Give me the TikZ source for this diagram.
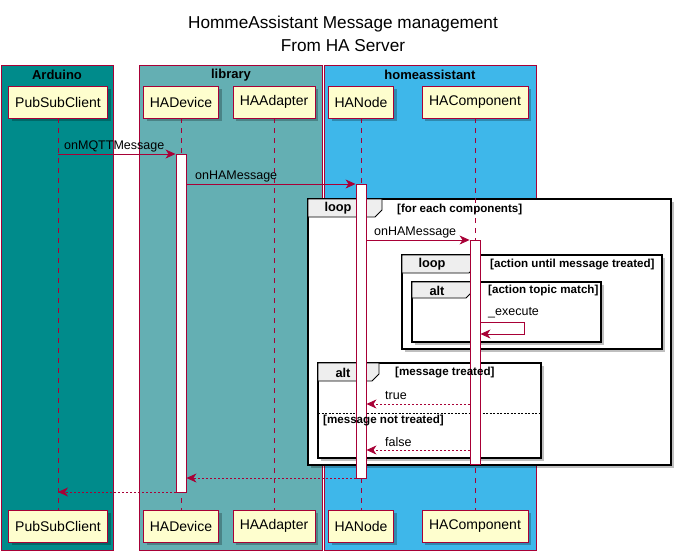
\documentclass[tikz,border=0pt]{standalone}
\usepackage{fontspec}
\setmainfont{Liberation Sans}
\usetikzlibrary{arrows.meta,shadows}
\definecolor{pline}{HTML}{A80036}
\definecolor{pfill}{HTML}{FEFECE}
\definecolor{ardc}{HTML}{008B8B}
\definecolor{libc}{HTML}{64AFB3}
\definecolor{hac}{HTML}{3EB7EA}
\definecolor{tabc}{HTML}{EEEEEE}
\begin{document}
\begin{tikzpicture}[x=1pt,y=-1pt,
  part/.style={draw=pline, fill=pfill, line width=0.9pt, minimum height=32pt, inner sep=0pt,
    font=\fontsize{14}{16}\selectfont,
    drop shadow={shadow xshift=3pt, shadow yshift=-3pt, fill=black, opacity=0.25}},
  life/.style={draw=pline, line width=0.8pt, dash pattern=on 5pt off 5pt},
  act/.style={draw=pline, fill=white, line width=0.9pt, minimum width=10pt, inner sep=0pt},
  msg/.style={draw=pline, line width=0.8pt, -{Stealth[length=10pt,width=9pt,inset=3pt]}},
  ret/.style={msg, dash pattern=on 2pt off 2pt},
  mlbl/.style={font=\fontsize{12.5}{14}\selectfont, inner sep=0pt, anchor=west},
  boxr/.style={draw=pline, line width=0.8pt},
  boxt/.style={font=\bfseries\fontsize{13}{15}\selectfont, inner sep=0pt},
  frame/.style={draw=black, line width=1.5pt, fill=white,
    drop shadow={shadow xshift=3pt, shadow yshift=-3pt, fill=black, opacity=0.25}},
  tab/.style={draw=black, line width=0.9pt, fill=tabc},
  ftag/.style={font=\bfseries\fontsize{12.8}{14}\selectfont, inner sep=0pt},
  cond/.style={font=\bfseries\fontsize{11.6}{13}\selectfont, inner sep=0pt, anchor=west}
]
\useasboundingbox (0,0) rectangle (684,555);

% title
\node[font=\fontsize{17.2}{20}\selectfont, inner sep=0pt] (title1) at (343,24) {HommeAssistant Message management};
\node[font=\fontsize{17.2}{20}\selectfont, inner sep=0pt] (title2) at (343,46) {From HA Server};

% boxes
\fill[ardc] (1,65) rectangle (113,550);
\draw[boxr] (1,65) rectangle (113,550);
\node[boxt] (tArd) at (57,75) {Arduino};
\fill[libc] (139,65) rectangle (322,550);
\draw[boxr] (139,65) rectangle (322,550);
\node[boxt] (tLib) at (231,75) {library};
\fill[hac] (324,65) rectangle (536,550);
\draw[boxr] (324,65) rectangle (536,550);
\node[boxt] (tHA) at (430,75) {homeassistant};

% frames
\draw[frame] (308,199) rectangle (671,465);
\draw[tab] (308,199) -- (382,199) -- (382,210) -- (375,217) -- (308,217) -- cycle;
\draw[frame] (402,255) rectangle (662,349);
\draw[tab] (402,255) -- (476,255) -- (476,266) -- (469,273) -- (402,273) -- cycle;
\draw[frame] (412,282) rectangle (601,342);
\draw[tab] (412,282) -- (473,282) -- (473,291) -- (466,298) -- (412,298) -- cycle;
\draw[frame] (318,363) rectangle (541,458);
\draw[tab] (318,363) -- (379,363) -- (379,374) -- (372,381) -- (318,381) -- cycle;
\draw[black, line width=0.8pt, dash pattern=on 2pt off 1.5pt] (318,413) -- (541,413);

% participants
\node[part, minimum width=99pt] (psT) at (58,102) {PubSubClient};
\node[part, minimum width=99pt] (psB) at (58,526) {PubSubClient};
\node[part, minimum width=75pt] (devT) at (181,102) {HADevice};
\node[part, minimum width=75pt] (devB) at (181,526) {HADevice};
\node[part, minimum width=82pt] (adT) at (274,102) {HAAdapter};
\node[part, minimum width=82pt] (adB) at (274,526) {HAAdapter};
\node[part, minimum width=65pt] (ndT) at (361,102) {HANode};
\node[part, minimum width=65pt] (ndB) at (361,526) {HANode};
\node[part, minimum width=106pt] (cpT) at (475,102) {HAComponent};
\node[part, minimum width=106pt] (cpB) at (475,526) {HAComponent};

% lifelines
\draw[life] (psT) -- (psB);
\draw[life] (devT) -- (devB);
\draw[life] (adT) -- (adB);
\draw[life] (ndT) -- (ndB);
\draw[life] (cpT) -- (cpB);

% activations
\node[act, minimum height=338pt] (aDev) at (181,323) {};
\node[act, minimum height=294pt] (aNd) at (361,331) {};
\node[act, minimum height=224pt] (aCp) at (475,352) {};

% frame labels (on top)
\node[ftag] (fl1) at (338,208.5) {loop};
\node[cond] (cl1) at (397,209) {[for each components]};
\node[ftag] (fl2) at (432,264.5) {loop};
\node[cond] (cl2) at (490,265) {[action until message treated]};
\node[ftag] (fa1) at (437,290.5) {alt};
\node[cond] (ca1) at (488,290) {[action topic match]};
\node[ftag] (fa2) at (343,372.5) {alt};
\node[cond] (ca2) at (395,373) {[message treated]};
\node[cond] (ca3) at (323,421) {[message not treated]};

% messages
\coordinate (m1s) at (psT |- 0,154);
\coordinate (m1e) at (aDev.west |- 0,154);
\draw[msg] (m1s) -- (m1e);
\node[mlbl] (l1) at (64,146) {onMQTTMessage};

\coordinate (m2s) at (aDev.east |- 0,184);
\coordinate (m2e) at (aNd.west |- 0,184);
\draw[msg] (m2s) -- (m2e);
\node[mlbl] (l2) at (195,176) {onHAMessage};

\coordinate (m3s) at (aNd.east |- 0,240);
\coordinate (m3e) at (aCp.west |- 0,240);
\draw[msg] (m3s) -- (m3e);
\node[mlbl] (l3) at (374,232) {onHAMessage};

\coordinate (m4s) at (aCp.east |- 0,322);
\coordinate (m4e) at (aCp.east |- 0,334);
\draw[msg] (m4s) -- (524,322) -- (524,334) -- (m4e);
\node[mlbl] (l4) at (488,313) {\_execute};

\coordinate (m5s) at (aCp.west |- 0,404);
\coordinate (m5e) at (aNd.east |- 0,404);
\draw[ret] (m5s) -- (m5e);
\node[mlbl] (l5) at (385,396) {true};

\coordinate (m6s) at (aCp.west |- 0,450);
\coordinate (m6e) at (aNd.east |- 0,450);
\draw[ret] (m6s) -- (m6e);
\node[mlbl] (l6) at (385,442) {false};

\coordinate (m7s) at (aNd.west |- 0,478);
\coordinate (m7e) at (aDev.east |- 0,478);
\draw[ret] (m7s) -- (m7e);

\coordinate (m8s) at (aDev.west |- 0,492);
\coordinate (m8e) at (psT |- 0,492);
\draw[ret] (m8s) -- (m8e);
\end{tikzpicture}
\end{document}
